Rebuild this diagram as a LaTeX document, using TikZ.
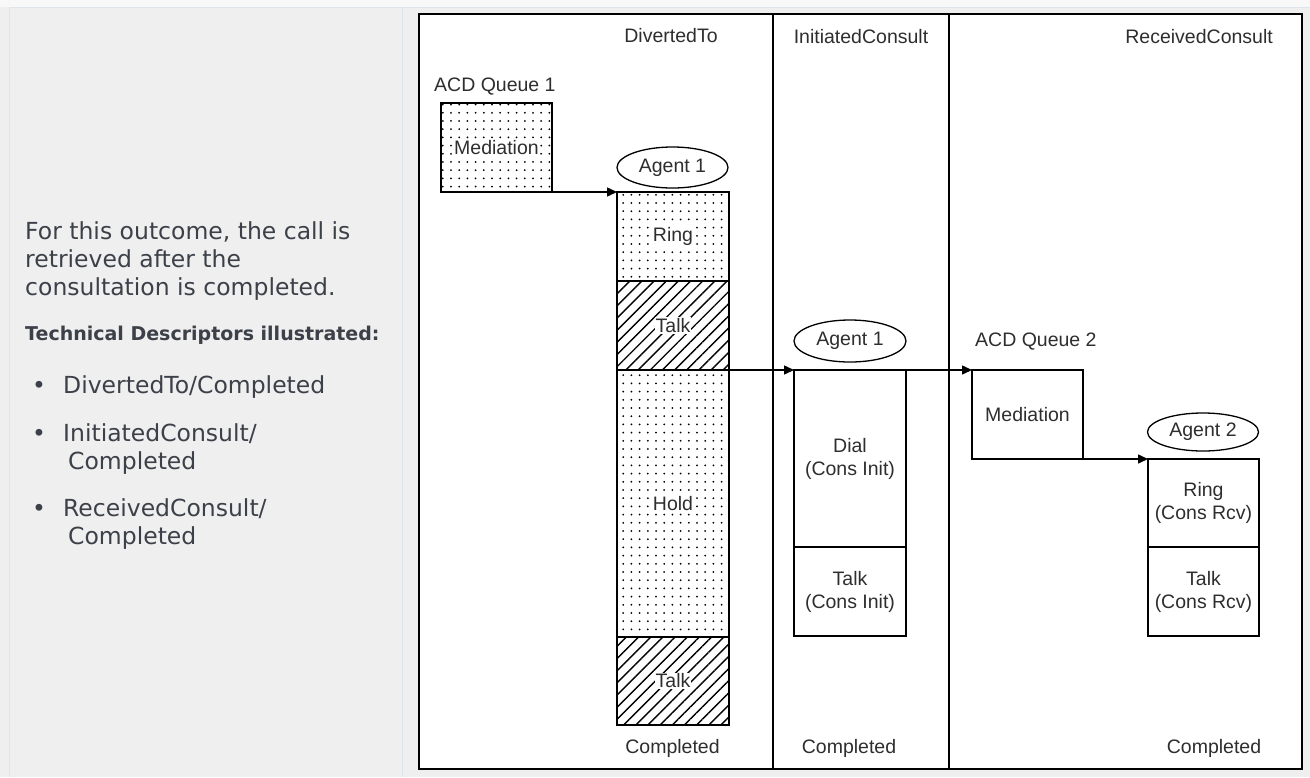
\documentclass[tikz,border=0pt]{standalone}
\usepackage{fontspec}
\setmainfont{Liberation Sans}
\newfontfamily\dvsans{DejaVu Sans}
\usetikzlibrary{shapes.geometric,arrows.meta,patterns.meta}
\definecolor{pagebg}{HTML}{EFEFEF}
\definecolor{topbg}{HTML}{F8F8F8}
\definecolor{edgeline}{HTML}{E0E5EC}
\definecolor{prose}{HTML}{3C4048}
\definecolor{ink}{HTML}{2E2E2E}
\newcommand{\diagfont}{\fontsize{19.5}{23}\selectfont}
\begin{document}
\begin{tikzpicture}[x=1pt,y=-1pt,
  box/.style={draw=black,line width=1.6pt,inner sep=0pt,outer sep=0pt,minimum width=111pt},
  dotbox/.style={box,pattern={Dots[distance=8.2pt,radius=1pt]}},
  hatchbox/.style={box,pattern={Lines[angle=45,distance=8.6pt,line width=1.4pt]}},
  agent/.style={ellipse,draw=black,line width=1.3pt,inner sep=0pt,outer sep=0pt,minimum width=111pt,minimum height=41pt,font=\diagfont,text=ink},
  lbl/.style={font=\diagfont,text=ink,inner sep=0pt,align=center},
  patlbl/.style={lbl,fill=white,inner sep=1pt},
  flow/.style={line width=1.5pt,-{Triangle[length=10pt,width=9pt]}},
  prosetext/.style={font=\dvsans\fontsize{23.5}{28}\selectfont,text=prose,inner sep=0pt,anchor=base west},
  boldtext/.style={font=\dvsans\bfseries\fontsize{19}{23}\selectfont,text=prose,inner sep=0pt,anchor=base west}
]
\useasboundingbox (0,0) rectangle (1310,777);
% page background
\fill[pagebg] (0,0) rectangle (1310,777);
\fill[topbg] (0,0) rectangle (1310,7);
\draw[edgeline,line width=1pt] (9,7) -- (1310,7);
\draw[edgeline,line width=1.2pt] (9.5,7) -- (9.5,777);
\draw[edgeline,line width=1.2pt] (402.5,7) -- (402.5,777);

% left prose
\node[prosetext] (p1) at (25,239) {For this outcome, the call is};
\node[prosetext] (p2) at (25,267) {retrieved after the};
\node[prosetext] (p3) at (25,295) {consultation is completed.};
\node[boldtext] (p4) at (25,340) {Technical Descriptors illustrated:};
\node[prosetext,anchor=base] (b1) at (39,393) {•};
\node[prosetext] (t1) at (63,393) {DivertedTo/Completed};
\node[prosetext,anchor=base] (b2) at (39,441) {•};
\node[prosetext] (t2) at (63,441) {InitiatedConsult/};
\node[prosetext] (t2b) at (68,469) {Completed};
\node[prosetext,anchor=base] (b3) at (39,516) {•};
\node[prosetext] (t3) at (63,516) {ReceivedConsult/};
\node[prosetext] (t3b) at (68,544) {Completed};

% diagram frame
\draw[fill=white,line width=2.2pt] (419,14) rectangle (1302,769);
\draw[line width=1.8pt] (773,14) -- (773,769);
\draw[line width=1.8pt] (949,14) -- (949,769);

% column headers
\node[lbl,anchor=base] (h1) at (671,42) {DivertedTo};
\node[lbl,anchor=base] (h2) at (861,43) {InitiatedConsult};
\node[lbl,anchor=base east] (h3) at (1273,43) {ReceivedConsult};

% column footers
\node[lbl,anchor=base] (f1) at (672.5,753) {Completed};
\node[lbl,anchor=base] (f2) at (849,753) {Completed};
\node[lbl,anchor=base] (f3) at (1214,753) {Completed};

% DivertedTo column
\node[lbl,anchor=base west] (q1) at (434,91) {ACD Queue 1};
\node[dotbox,minimum height=89pt] (med1) at (496.5,147.5) {};
\node[patlbl] (med1t) at (med1.center) {Mediation};
\node[agent] (ag1) at (672.5,167.5) {Agent 1};
\node[dotbox,minimum width=112pt,minimum height=89pt] (ring1) at (673,236.5) {};
\node[patlbl] (ring1t) at (ring1.center) {Ring};
\node[hatchbox,minimum width=112pt,minimum height=89pt] (talk1) at (673,325.5) {};
\node[patlbl] (talk1t) at (talk1.center) {Talk};
\node[dotbox,minimum width=112pt,minimum height=267pt] (hold1) at (673,503.5) {};
\node[patlbl] (hold1t) at (hold1.center) {Hold};
\node[hatchbox,minimum width=112pt,minimum height=88pt] (talk2) at (673,681) {};
\node[patlbl] (talk2t) at (talk2.center) {Talk};

% InitiatedConsult column
\node[agent,minimum width=112pt,minimum height=42pt] (ag1b) at (850,341) {Agent 1};
\node[box,minimum width=112pt,minimum height=177pt] (dial) at (850,458.5) {};
\node[lbl] (dialt) at (dial.center) {Dial\\(Cons Init)};
\node[box,minimum width=112pt,minimum height=89pt] (talki) at (850,591.5) {};
\node[lbl] (talkit) at (talki.center) {Talk\\(Cons Init)};

% ReceivedConsult column
\node[lbl,anchor=base west] (q2) at (975,346) {ACD Queue 2};
\node[box,minimum height=89pt] (med2) at (1027.5,414.5) {};
\node[lbl] (med2t) at (med2.center) {Mediation};
\node[agent,minimum height=38pt] (ag2) at (1203,432) {Agent 2};
\node[box,minimum width=111pt,minimum height=88pt] (ringr) at (1203.5,503) {};
\node[lbl] (ringrt) at (ringr.center) {Ring\\(Cons Rcv)};
\node[box,minimum width=111pt,minimum height=89pt] (talkr) at (1203.5,591.5) {};
\node[lbl] (talkrt) at (talkr.center) {Talk\\(Cons Rcv)};

% connectors
\draw[flow] (med1.south east) -- (ring1.north west);
\draw[flow] (hold1.north east) -- (dial.north west);
\draw[flow] (dial.north east) -- (med2.north west);
\draw[flow] (med2.south east) -- (ringr.north west);
\end{tikzpicture}
\end{document}
